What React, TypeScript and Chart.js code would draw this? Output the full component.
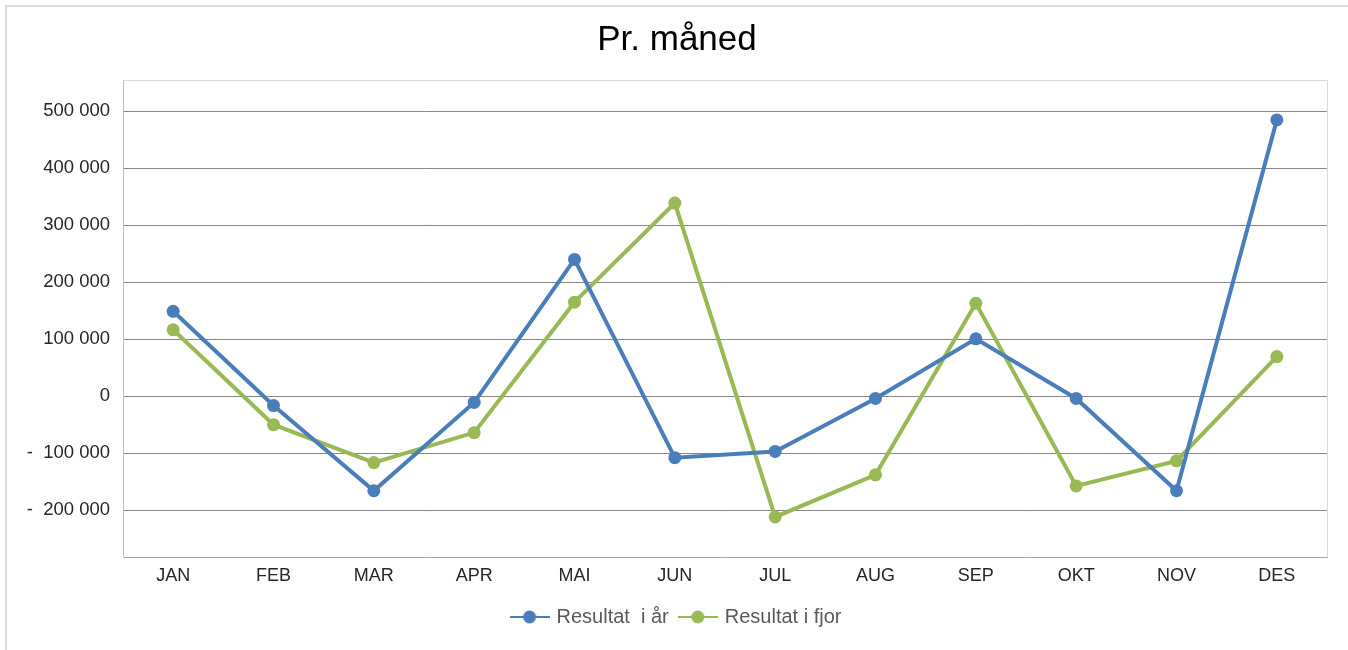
import React, { useEffect, useRef } from "react";
import { Chart, registerables } from "chart.js";

Chart.register(...registerables);

const MONTHS = ["JAN", "FEB", "MAR", "APR", "MAI", "JUN", "JUL", "AUG", "SEP", "OKT", "NOV", "DES"];
const THIS_YEAR = [149000, -16500, -166000, -11000, 240000, -108000, -97000, -4000, 100700, -4000, -166000, 485000];
const LAST_YEAR = [116500, -50000, -116500, -64000, 165000, 339000, -212000, -138000, 163000, -157500, -113500, 69500];
const Y_TICKS = [-200000, -100000, 0, 100000, 200000, 300000, 400000, 500000];
const SERIES_NAMES = ["Resultat  i år", "Resultat i fjor"];

const BLUE = "#4A7EBB";
const GREEN = "#98B954";
const FONT = "'Liberation Sans', Arial, sans-serif";

function fmt(v: number): string {
  const s = Math.abs(v).toString().replace(/\B(?=(\d{3})+(?!\d))/g, " ");
  return v < 0 ? "-  " + s : s;
}

function legendIcon(color: string): HTMLCanvasElement {
  const c = document.createElement("canvas");
  c.width = 40;
  c.height = 14;
  const ctx = c.getContext("2d")!;
  ctx.strokeStyle = color;
  ctx.lineWidth = 2;
  ctx.beginPath();
  ctx.moveTo(0, 7);
  ctx.lineTo(40, 7);
  ctx.stroke();
  ctx.fillStyle = color;
  ctx.beginPath();
  ctx.arc(20, 7, 6.5, 0, Math.PI * 2);
  ctx.fill();
  return c;
}

const borderPlugin = {
  id: "plotBorder",
  beforeDatasetsDraw(chart: any) {
    const { ctx, chartArea } = chart;
    ctx.save();
    ctx.strokeStyle = "#d9d9d9";
    ctx.lineWidth = 1;
    ctx.beginPath();
    ctx.moveTo(chartArea.left, chartArea.top + 0.5);
    ctx.lineTo(chartArea.right + 0.5, chartArea.top + 0.5);
    ctx.lineTo(chartArea.right + 0.5, chartArea.bottom);
    ctx.stroke();
    ctx.restore();
  },
};

export default function App() {
  const ref = useRef<HTMLCanvasElement>(null);

  useEffect(() => {
    if (!ref.current) return;
    const icons = [legendIcon(BLUE), legendIcon(GREEN)];
    const chart = new Chart(ref.current, {
      type: "line",
      data: {
        labels: MONTHS,
        datasets: [
          {
            label: SERIES_NAMES[0],
            data: THIS_YEAR,
            borderColor: BLUE,
            backgroundColor: BLUE,
            borderWidth: 4,
            pointRadius: 6.5,
            pointHoverRadius: 6.5,
            pointBorderWidth: 0,
            tension: 0,
          },
          {
            label: SERIES_NAMES[1],
            data: LAST_YEAR,
            borderColor: GREEN,
            backgroundColor: GREEN,
            borderWidth: 4,
            pointRadius: 6.5,
            pointHoverRadius: 6.5,
            pointBorderWidth: 0,
            tension: 0,
          },
        ],
      },
      options: {
        responsive: false,
        animation: false,
        layout: { padding: { left: 27, right: 21, top: 0, bottom: 13 } },
        plugins: {
          title: {
            display: true,
            text: "Pr. måned",
            color: "#000000",
            font: { family: FONT, size: 35, weight: "normal" },
            padding: { top: 19, bottom: 19 },
          },
          legend: {
            position: "bottom",
            labels: {
              usePointStyle: true,
              pointStyleWidth: 34,
              padding: 12,
              color: "#595959",
              font: { family: FONT, size: 20 },
              generateLabels: (ch: any) =>
                ch.data.datasets.map((ds: any, i: number) => ({
                  text: ds.label,
                  fillStyle: ds.backgroundColor,
                  strokeStyle: ds.borderColor,
                  lineWidth: 0,
                  pointStyle: icons[i],
                  hidden: false,
                  datasetIndex: i,
                  fontColor: "#595959",
                })),
            },
          },
          tooltip: { enabled: false },
        },
        scales: {
          x: {
            offset: true,
            grid: { display: false, drawTicks: false },
            border: { display: true, color: "#a6a6a6", width: 1 },
            ticks: { color: "#262626", padding: 8, font: { family: FONT, size: 18 } },
          },
          y: {
            min: -283000,
            max: 555000,
            afterBuildTicks: (scale: any) => {
              scale.ticks = Y_TICKS.map((v) => ({ value: v }));
            },
            afterFit: (scale: any) => {
              scale.width = 96;
            },
            grid: { color: "#868686", lineWidth: 1, drawTicks: false },
            border: { display: true, color: "#bfbfbf", width: 1 },
            ticks: {
              color: "#262626",
              padding: 13,
              font: { family: FONT, size: 18.5 },
              callback: (v: any) => fmt(Number(v)),
            },
          },
        },
      },
      plugins: [borderPlugin],
    });
    return () => chart.destroy();
  }, []);

  return (
    <div style={{ position: "fixed", left: 0, top: 0, width: 1348, height: 650, overflow: "hidden", background: "#fff" }}>
      <div
        style={{
          position: "absolute",
          left: 5,
          top: 5,
          width: 2000,
          height: 2000,
          border: "2px solid #dcdcdc",
        }}
      />
      <canvas ref={ref} width={1348} height={650} style={{ position: "absolute", left: 0, top: 0 }} />
    </div>
  );
}
